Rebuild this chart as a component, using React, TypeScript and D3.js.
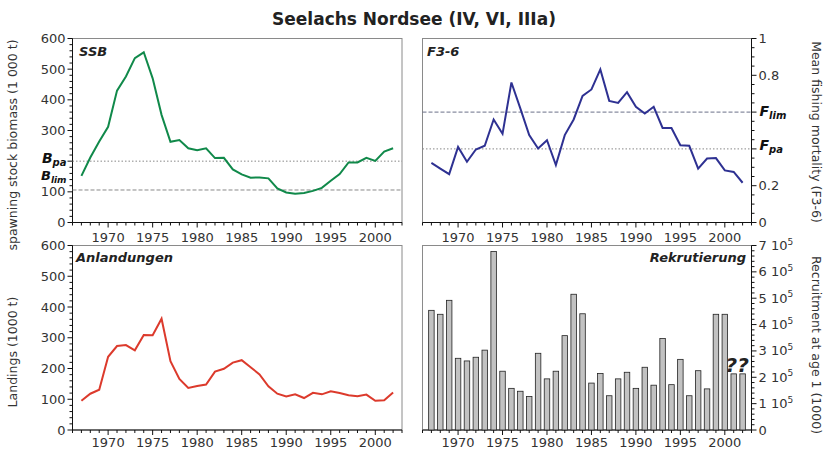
import React, {useEffect, useRef} from 'react';
import * as d3 from 'd3';

// Seelachs Nordsee (IV, VI, IIIa) - four panel stock summary

const years = [
    1967, 1968, 1969, 1970, 1971, 1972, 1973, 1974, 1975, 1976, 1977, 1978,
    1979, 1980, 1981, 1982, 1983, 1984, 1985, 1986, 1987, 1988, 1989, 1990,
    1991, 1992, 1993, 1994, 1995, 1996, 1997, 1998, 1999, 2000, 2001, 2002,
];

// spawning stock biomass, 1000 t
const ssb = [
    152, 212, 264, 312, 430, 476, 536, 555, 470, 351, 263, 269,
    242, 236, 242, 210, 211, 173, 157, 146, 147, 144, 111, 98,
    94, 96, 103, 113, 136, 158, 196, 196, 211, 201, 231, 242,
];

// mean F ages 3-6
const fbar = [
    0.324, 0.293, 0.263, 0.411, 0.330, 0.397, 0.417, 0.560, 0.482, 0.761, 0.620, 0.475,
    0.402, 0.447, 0.312, 0.475, 0.560, 0.688, 0.723, 0.832, 0.661, 0.650, 0.708, 0.629,
    0.592, 0.629, 0.514, 0.514, 0.420, 0.417, 0.293, 0.348, 0.350, 0.283, 0.275, 0.216,
];

// landings, 1000 t
const landings = [
    95, 118, 131, 238, 273, 276, 259, 309, 308, 362, 224, 166,
    137, 143, 148, 190, 199, 219, 227, 204, 181, 142, 118, 109,
    116, 104, 121, 116, 126, 120, 113, 110, 115, 95, 97, 122,
];

// recruitment at age 1, thousands
const recruits = [
    454000, 439000, 492000, 272000, 262000, 276000, 303000, 677000, 223000, 158000, 147000, 127000,
    291000, 194000, 223000, 358000, 515000, 441000, 178000, 214000, 130000, 194000, 219000, 158000,
    238000, 170000, 347000, 172000, 268000, 130000, 225000, 156000, 439000, 439000, 213000, 213000,
];

const xTicks = [1970, 1975, 1980, 1985, 1990, 1995, 2000];
const ssbTicks = [0, 100, 300, 400, 500, 600];
const landingTicks = [0, 100, 200, 300, 400, 500, 600];
const fTicks = [0, 0.2, 0.8, 1];
const recTicks = [0, 1, 2, 3, 4, 5, 6, 7];

const Bpa = 200;
const Blim = 106;
const Fpa = 0.4;
const Flim = 0.6;

const FONT = '"DejaVu Sans", Verdana, sans-serif';

export default function App() {
    const ref = useRef<SVGSVGElement>(null);

    useEffect(() => {
        document.body.style.margin = '0';
        const svg = d3.select(ref.current);
        svg.selectAll('*').remove();

        const L = [72.5, 402], R = [422.5, 751.5];
        const T = [38.5, 222.5], B = [245.5, 430];

        svg.append('text')
            .attr('x', 414).attr('y', 25)
            .attr('text-anchor', 'middle')
            .attr('font-family', FONT).attr('font-size', 17).attr('font-weight', 'bold')
            .attr('fill', '#222')
            .text('Seelachs Nordsee (IV, VI, IIIa)');

        const frame = (xr, yr, side, labelOffset) => {
            const x = d3.scaleLinear().domain([1966, 2003]).range(xr);
            const g = svg.append('g');
            g.append('rect')
                .attr('x', xr[0]).attr('y', yr[0])
                .attr('width', xr[1] - xr[0]).attr('height', yr[1] - yr[0])
                .attr('fill', 'none').attr('stroke', '#8a8a8a');
            // x axis
            g.append('line').attr('x1', xr[0]).attr('x2', xr[1]).attr('y1', yr[1]).attr('y2', yr[1])
                .attr('stroke', '#111');
            d3.range(1966, 2004).forEach((yr0) => {
                const major = yr0 % 5 === 0;
                g.append('line')
                    .attr('x1', x(yr0)).attr('x2', x(yr0))
                    .attr('y1', yr[1]).attr('y2', yr[1] + (major ? 5 : 3))
                    .attr('stroke', '#111');
            });
            xTicks.forEach((t) => {
                g.append('text')
                    .attr('x', x(t)).attr('y', yr[1] + labelOffset)
                    .attr('text-anchor', 'middle')
                    .attr('font-family', FONT).attr('font-size', 13).attr('fill', '#333')
                    .text(t);
            });
            const ax = side === 'left' ? xr[0] : xr[1];
            g.append('line').attr('x1', ax).attr('x2', ax).attr('y1', yr[0]).attr('y2', yr[1])
                .attr('stroke', '#111');
            return {x, g, ax};
        };

        const yTicks = (g, y, ax, dir, step, max, majors) => {
            d3.range(0, max + step / 2, step).forEach((v) => {
                const isMajor = majors.some((m) => Math.abs(m - v) < step / 10);
                g.append('line')
                    .attr('x1', ax).attr('x2', ax + dir * (isMajor ? 5 : 3))
                    .attr('y1', y(v)).attr('y2', y(v))
                    .attr('stroke', '#111');
            });
        };

        const refLine = (g, xr, yv, dash, color) => {
            g.append('line')
                .attr('x1', xr[0]).attr('x2', xr[1]).attr('y1', yv).attr('y2', yv)
                .attr('stroke', color).attr('stroke-width', 1).attr('stroke-dasharray', dash);
        };

        const refLabel = (g, xPos, yPos, main, sub, anchor, size = 14) => {
            const t = g.append('text')
                .attr('x', xPos).attr('y', yPos)
                .attr('text-anchor', anchor)
                .attr('font-family', FONT).attr('font-weight', 'bold').attr('font-style', 'italic')
                .attr('font-size', size).attr('fill', '#111');
            t.append('tspan').text(main);
            t.append('tspan').attr('font-size', size - 4).attr('dy', 3).text(sub);
        };

        const panelLabel = (g, xPos, yPos, txt, anchor) => {
            g.append('text')
                .attr('x', xPos).attr('y', yPos).attr('text-anchor', anchor)
                .attr('font-family', FONT).attr('font-weight', 'bold').attr('font-style', 'italic')
                .attr('font-size', 13).attr('fill', '#222')
                .text(txt);
        };

        const axisTitle = (xPos, yPos, rot, txt) => {
            svg.append('text')
                .attr('transform', `translate(${xPos},${yPos}) rotate(${rot})`)
                .attr('text-anchor', 'middle')
                .attr('font-family', FONT).attr('font-size', 12.5).attr('fill', '#333')
                .text(txt);
        };

        // --- SSB ---
        {
            const {x, g, ax} = frame(L, T, 'left', 19);
            const y = d3.scaleLinear().domain([0, 600]).range([T[1], T[0]]);
            yTicks(g, y, ax, -1, 20, 600, [0, 100, 200, 300, 400, 500, 600]);
            ssbTicks.forEach((t) => {
                g.append('text').attr('x', ax - 7).attr('y', y(t)).attr('dy', '0.35em')
                    .attr('text-anchor', 'end')
                    .attr('font-family', FONT).attr('font-size', 13).attr('fill', '#333').text(t);
            });
            refLine(g, L, y(Bpa), '1.5,2', '#888');
            refLine(g, L, y(Blim), '4,2', '#888');
            refLabel(g, ax - 6, y(Bpa) + 2, 'B', 'pa', 'end');
            refLabel(g, ax - 6, y(Blim) - 10, 'B', 'lim', 'end', 13);
            g.append('path').datum(years)
                .attr('fill', 'none').attr('stroke', '#10894a').attr('stroke-width', 2)
                .attr('d', d3.line<number>().x((d) => x(d)).y((d, i) => y(ssb[i])));
            panelLabel(g, 79, 56, 'SSB', 'start');
        }

        // --- F3-6 ---
        {
            const {x, g, ax} = frame(R, T, 'right', 19);
            const y = d3.scaleLinear().domain([0, 1]).range([T[1], T[0]]);
            yTicks(g, y, ax, 1, 0.05, 1, [0, 0.2, 0.4, 0.6, 0.8, 1]);
            fTicks.forEach((t) => {
                g.append('text').attr('x', ax + 7).attr('y', y(t)).attr('dy', '0.35em')
                    .attr('font-family', FONT).attr('font-size', 13).attr('fill', '#333').text(t);
            });
            refLine(g, R, y(Flim), '4,2', '#6a7088');
            refLine(g, R, y(Fpa), '1.5,2', '#888');
            refLabel(g, ax + 8, y(Flim) + 4, 'F', 'lim', 'start');
            refLabel(g, ax + 8, y(Fpa) + 1, 'F', 'pa', 'start');
            g.append('path').datum(years)
                .attr('fill', 'none').attr('stroke', '#2e3192').attr('stroke-width', 2)
                .attr('d', d3.line<number>().x((d) => x(d)).y((d, i) => y(fbar[i])));
            panelLabel(g, 427, 56, 'F3-6', 'start');
        }

        // --- Anlandungen ---
        {
            const {x, g, ax} = frame(L, B, 'left', 17);
            const y = d3.scaleLinear().domain([0, 600]).range([B[1], B[0]]);
            yTicks(g, y, ax, -1, 20, 600, landingTicks);
            landingTicks.forEach((t) => {
                g.append('text').attr('x', ax - 7).attr('y', y(t)).attr('dy', '0.35em')
                    .attr('text-anchor', 'end')
                    .attr('font-family', FONT).attr('font-size', 13).attr('fill', '#333').text(t);
            });
            g.append('path').datum(years)
                .attr('fill', 'none').attr('stroke', '#dc3a2c').attr('stroke-width', 2)
                .attr('d', d3.line<number>().x((d) => x(d)).y((d, i) => y(landings[i])));
            panelLabel(g, 76, 262, 'Anlandungen', 'start');
        }

        // --- Rekrutierung ---
        {
            const {x, g, ax} = frame(R, B, 'right', 17);
            const y = d3.scaleLinear().domain([0, 700000]).range([B[1], B[0]]);
            yTicks(g, y, ax, 1, 20000, 700000, recTicks.map((t) => t * 100000));
            recTicks.forEach((t) => {
                const txt = g.append('text').attr('x', ax + 7).attr('y', y(t * 100000)).attr('dy', '0.35em')
                    .attr('font-family', FONT).attr('font-size', 13).attr('fill', '#333');
                if (t === 0) {
                    txt.text('0');
                } else {
                    txt.append('tspan').text(`${t} 10`);
                    txt.append('tspan').attr('font-size', 9).attr('dy', '-0.6em').text('5');
                }
            });
            const bw = 5.5;
            g.selectAll('rect.bar').data(years).enter().append('rect')
                .attr('class', 'bar')
                .attr('x', (d) => x(d) - bw / 2)
                .attr('width', bw)
                .attr('y', (d, i) => y(recruits[i]))
                .attr('height', (d, i) => B[1] - y(recruits[i]))
                .attr('fill', '#c2c2c2').attr('stroke', '#222').attr('stroke-width', 0.8);
            g.append('text')
                .attr('x', (x(2001) + x(2002)) / 2 - 1).attr('y', y(recruits[34]) - 2)
                .attr('text-anchor', 'middle')
                .attr('font-family', FONT).attr('font-weight', 'bold').attr('font-style', 'italic')
                .attr('font-size', 20).attr('fill', '#222')
                .text('??');
            panelLabel(g, 746, 262, 'Rekrutierung', 'end');
        }

        axisTitle(17, 145, -90, 'spawning stock biomass (1 000 t)');
        axisTitle(17, 352, -90, 'Landings (1000 t)');
        axisTitle(812, 132, 90, 'Mean fishing mortality (F3-6)');
        axisTitle(812, 345, 90, 'Recruitment at age 1 (1000)');
    }, []);

    return <svg ref={ref} width={829} height={449} style={{display: 'block'}}/>;
}
